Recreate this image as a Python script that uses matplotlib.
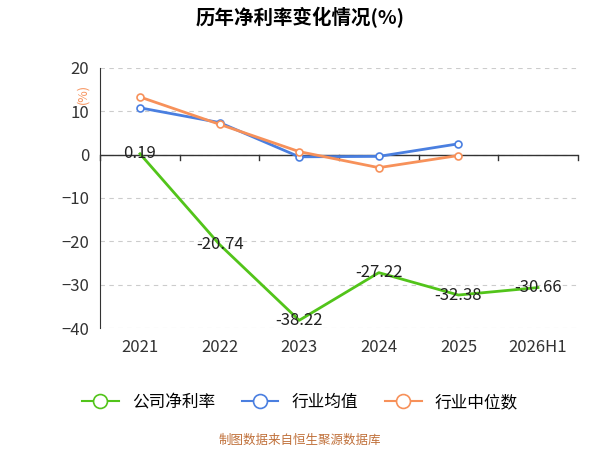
import matplotlib
matplotlib.use('Agg')
import matplotlib.pyplot as plt
from matplotlib.lines import Line2D

plt.rcParams['font.family'] = ['Noto Sans CJK SC', 'DejaVu Sans']

years = ['2021', '2022', '2023', '2024', '2025', '2026H1']
company = [0.19, -20.74, -38.22, -27.22, -32.38, -30.66]
industry_avg = [10.8, 7.4, -0.5, -0.4, 2.5]
industry_median = [13.3, 7.0, 0.7, -3.0, -0.2]

GREEN = '#52c41a'
BLUE = '#4a7fe0'
ORANGE = '#f7915a'

fig = plt.figure(figsize=(6, 4.5), dpi=100)
ax = fig.add_axes([0.167, 0.271, 0.796, 0.578])

x = list(range(len(years)))
ax.plot(x, company, color=GREEN, lw=2, zorder=3)
ax.plot(x[:5], industry_avg, color=BLUE, lw=2, marker='o', ms=5,
        mfc='white', mew=1.2, zorder=4)
ax.plot(x[:5], industry_median, color=ORANGE, lw=2, marker='o', ms=5,
        mfc='white', mew=1.2, zorder=5)

for i, v in enumerate(company):
    ax.text(i, v, f'{v:.2f}', ha='center', va='center', fontsize=12, color='#222222', zorder=6)

ax.set_xlim(-0.5, 5.5)
ax.set_ylim(-40, 20)
ax.set_yticks(range(-40, 21, 10))
ax.set_xticks(x)
ax.set_xticklabels(years)
ax.tick_params(axis='both', labelsize=12, colors='#333333', length=0, pad=8)
ax.grid(axis='y', ls=(0, (4, 4)), color='#cccccc', lw=0.8)
for s in ['top', 'right', 'bottom']:
    ax.spines[s].set_visible(False)
ax.spines['left'].set_color('#333333')
ax.axhline(0, color='#333333', lw=1, zorder=2)
for xi in [i - 0.5 for i in range(len(years) + 1)]:
    ax.plot([xi, xi], [0, -1.2], color='#333333', lw=1, clip_on=False)
ax.text(-0.72, 14, '(%)', color=ORANGE, fontsize=9, rotation=90, ha='center', va='center')

fig.text(0.5, 0.96, '历年净利率变化情况(%)', ha='center', va='center', fontsize=14, fontweight='bold')

handles = [Line2D([], [], color=c, lw=1.5, marker='o', ms=10, mfc='white', mew=1.2)
           for c in (GREEN, BLUE, ORANGE)]
fig.legend(handles, ['公司净利率', '行业均值', '行业中位数'], loc='center', ncol=3,
           bbox_to_anchor=(0.5, 0.105), frameon=False, fontsize=12, handlelength=2.2,
           columnspacing=1.6)
fig.text(0.5, 0.022, '制图数据来自恒生聚源数据库', ha='center', va='center', fontsize=9, color='#c0703a')

fig.savefig('out.png', dpi=100)
